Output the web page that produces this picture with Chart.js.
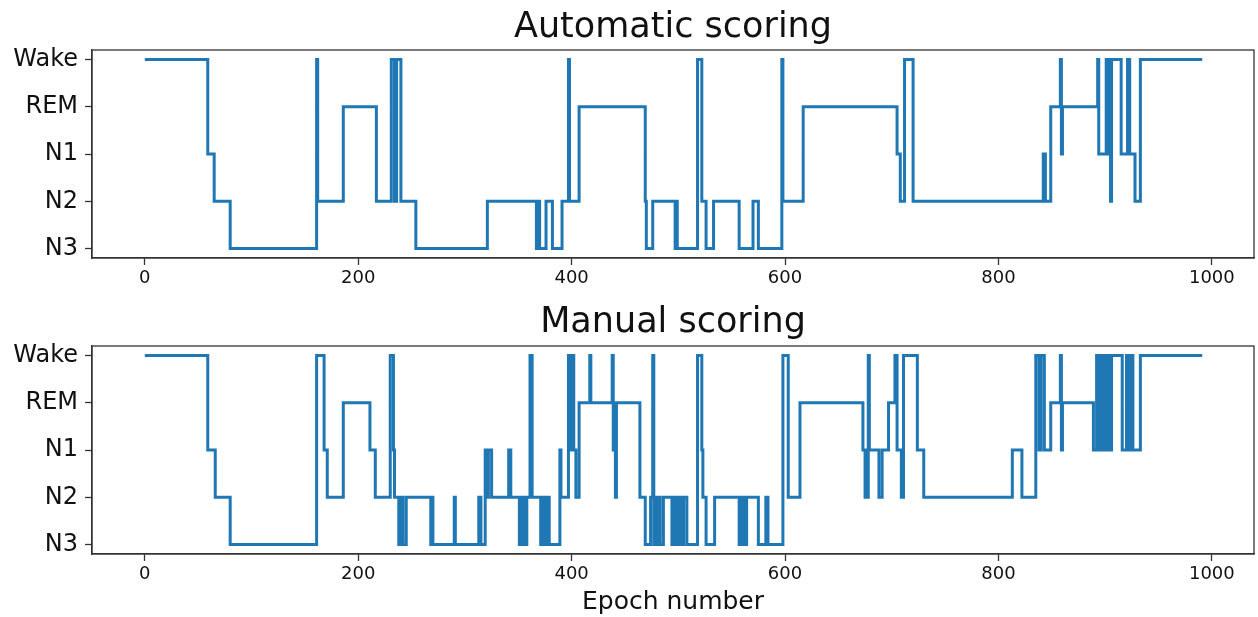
<!DOCTYPE html>
<html>
<head>
<meta charset="utf-8">
<script src="https://cdn.jsdelivr.net/npm/chart.js@4/dist/chart.umd.min.js"></script>
<style>
  html, body { margin: 0; padding: 0; background: #fff; }
  #wrap { position: relative; width: 1258px; height: 617px; overflow: hidden; }
  canvas { position: absolute; left: 0; }
  #autoChart { top: 0; }
  #manualChart { top: 296px; }
</style>
</head>
<body>
<div id="wrap">
  <canvas id="autoChart" width="1258" height="300"></canvas>
  <canvas id="manualChart" width="1258" height="321"></canvas>
</div>
<script>
// stage labels, bottom to top
const stageNames = ['N3', 'N2', 'N1', 'REM', 'Wake'];
const xTicks = [0, 200, 400, 600, 800, 1000];
const lastEpoch = 991;

// automatic scoring: epoch where a stage starts, and that stage
const autoEpochs = [0, 59, 65, 80, 161, 162, 186, 217, 231, 234, 236, 240, 254, 321, 367, 369, 370, 376, 382, 391,
  397, 398, 407, 469, 470, 476, 497, 498, 499, 518, 522, 526, 533, 557, 570, 575, 597, 598, 617, 705,
  708, 712, 720, 842, 844, 849, 858, 859, 860, 893, 894, 901, 903, 904, 905, 906, 915, 921, 923, 928, 933];
const autoStages = ['Wake', 'N1', 'N2', 'N3', 'Wake', 'N2', 'REM', 'N2', 'Wake', 'N2', 'Wake', 'N2', 'N3', 'N2', 'N3', 'N2', 'N3', 'N2', 'N3', 'N2',
  'Wake', 'N2', 'REM', 'N2', 'N3', 'N2', 'N3', 'N2', 'N3', 'Wake', 'N2', 'N3', 'N2', 'N3', 'N2', 'N3', 'Wake', 'N2', 'REM', 'N1',
  'N2', 'Wake', 'N2', 'N1', 'N2', 'REM', 'Wake', 'N1', 'REM', 'Wake', 'N1', 'Wake', 'N1', 'Wake', 'N2', 'Wake', 'N1', 'Wake', 'N1', 'N2', 'Wake'];

// manual scoring
const manualEpochs = [0, 59, 66, 80, 161, 168, 171, 186, 211, 216, 230, 233, 234, 238, 240, 242, 245, 268, 269, 270,
  290, 291, 313, 315, 319, 320, 322, 325, 341, 343, 351, 352, 353, 354, 355, 356, 357, 358, 361, 363,
  371, 373, 374, 375, 376, 378, 379, 389, 390, 397, 399, 400, 402, 404, 407, 417, 418, 438, 439, 440,
  441, 442, 464, 469, 474, 476, 477, 479, 480, 482, 483, 486, 494, 496, 497, 499, 500, 502, 504, 505,
  508, 518, 522, 523, 526, 534, 557, 558, 559, 560, 561, 562, 563, 564, 575, 582, 584, 598, 603, 614,
  673, 675, 676, 677, 678, 679, 688, 691, 697, 703, 705, 709, 711, 724, 730, 813, 822, 835, 838, 840,
  843, 849, 858, 859, 860, 889, 892, 894, 895, 896, 897, 899, 900, 902, 903, 905, 906, 916, 920, 922,
  924, 926, 933];
const manualStages = ['Wake', 'N1', 'N2', 'N3', 'Wake', 'N1', 'N2', 'REM', 'N1', 'N2', 'Wake', 'N1', 'N2', 'N3', 'N2', 'N3', 'N2', 'N3', 'N2', 'N3',
  'N2', 'N3', 'N2', 'N3', 'N1', 'N2', 'N1', 'N2', 'N1', 'N2', 'N3', 'N2', 'N3', 'N2', 'N3', 'N2', 'N3', 'N2', 'Wake', 'N2',
  'N3', 'N2', 'N3', 'N2', 'N3', 'N2', 'N3', 'N1', 'N2', 'Wake', 'N1', 'Wake', 'N1', 'N2', 'REM', 'Wake', 'REM', 'Wake', 'N1', 'REM',
  'N2', 'REM', 'N2', 'N3', 'N2', 'Wake', 'N3', 'N2', 'N3', 'N2', 'N3', 'N2', 'N3', 'N2', 'N3', 'N2', 'N3', 'N2', 'N3', 'N2',
  'N3', 'Wake', 'N1', 'N2', 'N3', 'N2', 'N3', 'N2', 'N3', 'N2', 'N3', 'N2', 'N3', 'N2', 'N3', 'N2', 'N3', 'Wake', 'N2', 'REM',
  'N1', 'N2', 'N1', 'N2', 'Wake', 'N1', 'N2', 'N1', 'REM', 'Wake', 'N1', 'N2', 'Wake', 'N1', 'N2', 'N1', 'N2', 'Wake', 'N1', 'Wake',
  'N1', 'REM', 'Wake', 'N1', 'REM', 'N1', 'Wake', 'N1', 'Wake', 'N1', 'Wake', 'N1', 'Wake', 'N1', 'Wake', 'N1', 'Wake', 'N1', 'Wake', 'N1',
  'Wake', 'N1', 'Wake'];

const lineColor = '#1f77b4';
const axisColor = '#333';
const fontFamily = "'DejaVu Sans', sans-serif";

function toPoints(epochs, stages) {
  const pts = epochs.map((e, i) => ({ x: e, y: stageNames.indexOf(stages[i]) }));
  pts.push({ x: lastEpoch, y: pts[pts.length - 1].y });
  return pts;
}

// box round the plot area
const frame = {
  id: 'frame',
  afterDraw(chart) {
    const { ctx, chartArea: a } = chart;
    ctx.save();
    ctx.strokeStyle = axisColor;
    ctx.lineWidth = 1.3;
    ctx.strokeRect(a.left, a.top, a.right - a.left, a.bottom - a.top);
    ctx.restore();
  }
};

function makeChart(id, title, epochs, stages, opts) {
  const ctx = document.getElementById(id).getContext('2d');
  return new Chart(ctx, {
    type: 'line',
    data: {
      datasets: [{
        data: toPoints(epochs, stages),
        borderColor: lineColor,
        borderWidth: 3,
        pointRadius: 0,
        stepped: true,
        fill: false
      }]
    },
    options: {
      responsive: false,
      animation: false,
      layout: { padding: { left: 0, right: 4, top: 0, bottom: 0 } },
      plugins: {
        legend: { display: false },
        tooltip: { enabled: false },
        title: {
          display: true,
          fullSize: false,
          text: title,
          color: '#111',
          font: { family: fontFamily, size: 35, weight: 'normal' },
          padding: opts.titlePadding
        }
      },
      scales: {
        x: {
          type: 'linear',
          min: -49.5,
          max: 1039.5,
          afterBuildTicks: s => { s.ticks = xTicks.map(v => ({ value: v })); },
          afterFit: s => { s.height = opts.xHeight; },
          grid: { drawOnChartArea: false, color: axisColor, tickLength: 7, tickWidth: 1.3 },
          border: { color: axisColor, width: 1.3 },
          ticks: {
            color: '#111',
            font: { family: fontFamily, size: 18 },
            padding: 3,
            maxRotation: 0,
            callback: v => String(v)
          },
          title: opts.xTitle ? {
            display: true,
            text: opts.xTitle,
            color: '#111',
            font: { family: fontFamily, size: 25 },
            padding: 0
          } : { display: false }
        },
        y: {
          type: 'linear',
          min: -0.2,
          max: 4.2,
          afterBuildTicks: s => { s.ticks = stageNames.map((n, i) => ({ value: i })); },
          afterFit: s => { s.width = 92; },
          grid: { drawOnChartArea: false, color: axisColor, tickLength: 7, tickWidth: 1.3 },
          border: { color: axisColor, width: 1.3 },
          ticks: {
            color: '#111',
            font: { family: fontFamily, size: 24 },
            padding: 7,
            callback: v => stageNames[v]
          }
        }
      }
    },
    plugins: [frame]
  });
}

makeChart('autoChart', 'Automatic scoring', autoEpochs, autoStages,
  { titlePadding: { top: 7, bottom: 1 }, xHeight: 42 });
makeChart('manualChart', 'Manual scoring', manualEpochs, manualStages,
  { titlePadding: { top: 6, bottom: 2 }, xHeight: 63, xTitle: 'Epoch number' });
</script>
</body>
</html>
